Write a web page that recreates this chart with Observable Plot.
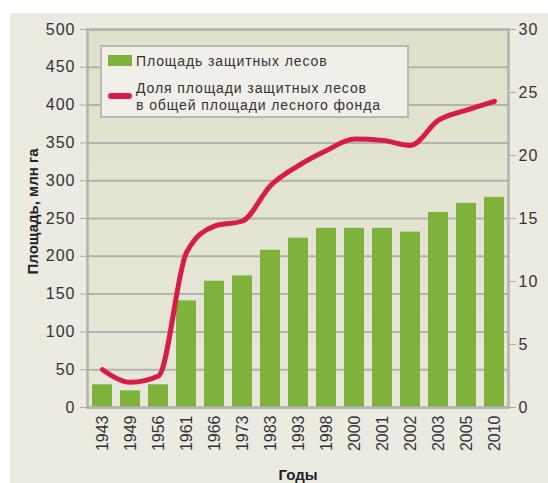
<!DOCTYPE html>
<html><head><meta charset="utf-8">
<script src="https://cdn.jsdelivr.net/npm/d3@7"></script>
<script src="https://cdn.jsdelivr.net/npm/@observablehq/plot@0.6"></script>
<style>
html,body{margin:0;padding:0;background:#fff;}
#wrap{position:absolute;left:10px;top:13px;width:538px;height:470px;background:#ebebe2;overflow:hidden;font-family:"Liberation Sans",Arial,sans-serif;}
#legend{position:absolute;left:90px;top:32px;width:309px;height:73px;background:#f0f0e9;border:2px solid #b9b9b2;box-sizing:border-box;color:#333;font-size:14px;letter-spacing:0.9px;}
.row{position:absolute;left:34px;line-height:17px;white-space:nowrap;}
.sw{position:absolute;left:6px;}
[aria-label="y-axis tick label"] text{letter-spacing:1px;}
</style></head>
<body>
<div id="wrap">
<div id="chart"></div>
<div id="legend">
  <div class="sw" style="top:8px;width:24px;height:11px;background:#7db33a"></div>
  <div class="row" style="top:6px">Площадь защитных лесов</div>
  <div class="sw" style="top:46px;width:24px;height:6px;background:#d71c4c;border-radius:3px"></div>
  <div class="row" style="top:33px">Доля площади защитных лесов<br>в общей площади лесного фонда</div>
</div>
</div>
<script>
const years = ["1943","1949","1956","1961","1966","1973","1983","1993","1998","2000","2001","2002","2003","2005","2010"];
const area = [30, 22, 30, 141, 167, 174, 208, 224, 237, 237, 237, 232, 258, 270, 278];
const share = [3.0, 2.0, 2.5, 12.3, 14.4, 14.8, 17.6, 19.2, 20.4, 21.3, 21.2, 20.8, 22.8, 23.6, 24.3];
const leftTicks = [0, 50, 100, 150, 200, 250, 300, 350, 400, 450, 500];
const rightTicks = [0, 5, 10, 15, 20, 25, 30];
const yLabel = "Площадь, млн га";
const xLabel = "Годы";

const data = years.map((y, i) => ({year: y, area: area[i], share: share[i]}));
const k = 500 / 30;

const defs = () => {
  const d = d3.create("svg:defs");
  const g = d.append("linearGradient").attr("id", "bgGrad").attr("x1", 0).attr("y1", 0).attr("x2", 0).attr("y2", 1);
  g.append("stop").attr("offset", "0%").attr("stop-color", "#dfe1ca");
  g.append("stop").attr("offset", "100%").attr("stop-color", "#e7e7da");
  return d.node();
};

const chart = Plot.plot({
  width: 538,
  height: 470,
  marginLeft: 77,
  marginRight: 40,
  marginTop: 16,
  marginBottom: 76,
  style: {background: "transparent", fontFamily: "Liberation Sans, Arial, sans-serif", color: "#333"},
  x: {domain: years, paddingInner: 0.3, paddingOuter: 0.1, label: null},
  y: {domain: [0, 500], label: null},
  marks: [
    defs,
    Plot.frame({fill: "url(#bgGrad)", stroke: null}),
    Plot.gridY(leftTicks, {stroke: "#b3b3ad", strokeOpacity: 1, strokeWidth: 2}),
    Plot.barY(data, {x: "year", y: "area", fill: "#7db33a"}),
    Plot.frame({stroke: "#b3b3ad", strokeWidth: 2.5}),
    Plot.axisY(leftTicks, {anchor: "left", tickSize: 7, tickPadding: 5, fontSize: 16, stroke: "#aaa", fill: "#333", label: null}),
    Plot.axisY(rightTicks.map(t => t * k), {anchor: "right", tickSize: 7, tickPadding: 3, fontSize: 16, stroke: "#aaa", fill: "#333", tickFormat: d => Math.round(d / k), label: null}),
    Plot.axisX({tickSize: 0, tickPadding: 8, tickRotate: -90, fontSize: 16, fill: "#333", label: null}),
    Plot.lineY(data, {x: "year", y: d => d.share * k, stroke: "#d71c4c", strokeWidth: 5, curve: "monotone-x"}),
    Plot.text([yLabel], {frameAnchor: "left", dx: -54, dy: -7, rotate: -90, textAnchor: "middle", fontSize: 15, fontWeight: "bold", fill: "#222"}),
    Plot.text([xLabel], {frameAnchor: "bottom", dy: 72, lineAnchor: "bottom", fontSize: 15, fontWeight: "bold", fill: "#222"})
  ]
});
document.getElementById("chart").appendChild(chart);
</script>
</body></html>
